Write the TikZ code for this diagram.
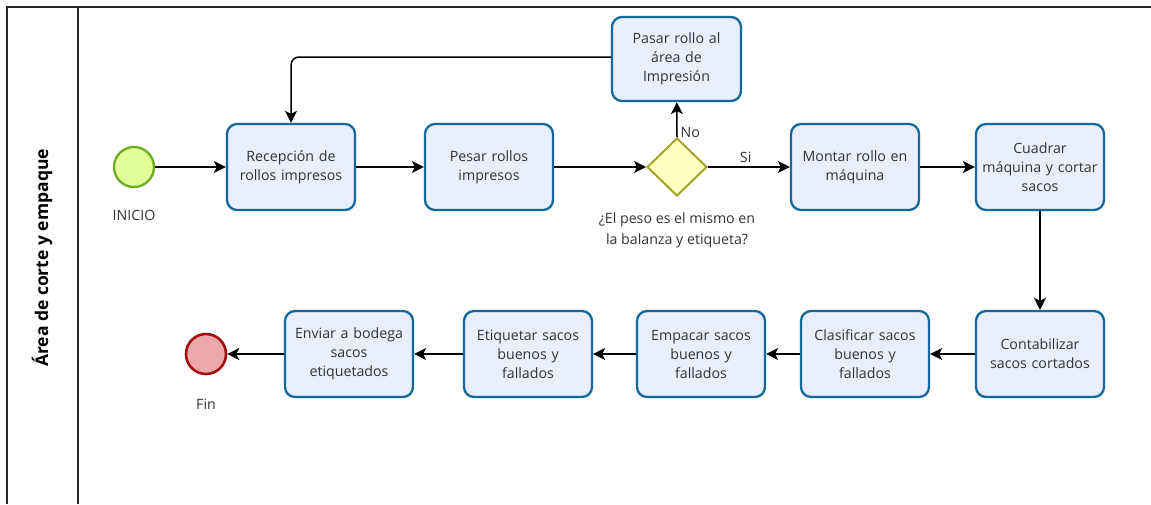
\documentclass[tikz,border=0pt]{standalone}
\usepackage{fontspec}
\setmainfont{Open Sans}
\usetikzlibrary{arrows.meta,shapes.geometric}
\definecolor{taskfill}{HTML}{E8EEFC}
\definecolor{taskline}{HTML}{15689A}
\definecolor{gatefill}{HTML}{FFFFC2}
\definecolor{gateline}{HTML}{A3A329}
\definecolor{startfill}{HTML}{E2FF9A}
\definecolor{startline}{HTML}{6AAE20}
\definecolor{endfill}{HTML}{EDA9A9}
\definecolor{endline}{HTML}{A30F0F}
\definecolor{txt}{HTML}{333333}
\tikzset{
  task/.style={draw=taskline, fill=taskfill, line width=2.3pt, rounded corners=10pt,
    minimum width=128pt, minimum height=86pt, text width=124pt, align=center,
    font=\fontsize{14.2}{19}\selectfont, text=txt, inner sep=0pt},
  gate/.style={diamond, draw=gateline, fill=gatefill, line width=2pt,
    minimum width=60pt, minimum height=58pt, inner sep=0pt},
  startev/.style={circle, draw=startline, fill=startfill, line width=2.3pt,
    minimum size=40pt, inner sep=0pt},
  endev/.style={circle, draw=endline, fill=endfill, line width=2.6pt,
    minimum size=40pt, inner sep=0pt},
  lbl/.style={font=\fontsize{14.2}{21}\selectfont, text=txt, align=center, inner sep=0pt},
  flow/.style={line width=1.5pt, -{Stealth[length=12pt,width=12pt,inset=3pt]}},
}
\begin{document}
\begin{tikzpicture}[x=1pt,y=-1pt]
  \useasboundingbox (0,0) rectangle (1151,504);
  \fill[white] (0,0) rectangle (1151,504);
  % pool and lane
  \draw[line width=1.3pt, black!85] (7,504) -- (7,7) -- (1151,7);
  \draw[line width=1.3pt, black!85] (78,7) -- (78,504);
  \node[rotate=90, font=\fontsize{17.5}{20}\selectfont\bfseries] (lane) at (42,258) {Área de corte y empaque};

  % events
  \node[startev] (ini) at (134,167) {};
  \node[lbl] (inil) at (134,215) {INICIO};
  \node[endev] (fin) at (206,354) {};
  \node[lbl] (finl) at (206,404) {Fin};

  % top row
  \node[task] (rec) at (291,167) {Recepción de\\rollos impresos};
  \node[task] (pes) at (489,167) {Pesar rollos\\impresos};
  \node[gate] (gw) at (677,167) {};
  \node[lbl] (gwl) at (677,230) {¿El peso es el mismo en\\la balanza y etiqueta?};
  \node[task, minimum width=129pt, minimum height=84pt] (pas) at (676.5,59) {Pasar rollo al\\área de\\Impresión};
  \node[task] (mon) at (855,167) {Montar rollo en\\máquina};
  \node[task] (cua) at (1040,167) {Cuadrar\\máquina y cortar\\sacos};

  % bottom row
  \node[task] (con) at (1040,354) {Contabilizar\\sacos cortados};
  \node[task] (cla) at (865,354) {Clasificar sacos\\buenos y\\fallados};
  \node[task] (emp) at (701,354) {Empacar sacos\\buenos y\\fallados};
  \node[task] (eti) at (528,354) {Etiquetar sacos\\buenos y\\fallados};
  \node[task] (env) at (349,354) {Enviar a bodega\\sacos\\etiquetados};

  % flows
  \draw[flow] (ini) -- (rec);
  \draw[flow] (rec) -- (pes);
  \draw[flow] (pes) -- (gw.west);
  \draw[flow] (gw.east) -- node[lbl, above=4pt, pos=0.46] (si) {Si} (mon);
  \draw[flow] (gw.north) -- node[lbl, right=3pt, pos=0.12] (no) {No} (pas);
  \draw[flow, rounded corners=8pt] (pas.west |- 0,57) -- (291,57) -- (rec.north);
  \draw[flow] (mon) -- (cua);
  \draw[flow] (cua) -- (con);
  \draw[flow] (con) -- (cla);
  \draw[flow] (cla) -- (emp);
  \draw[flow] (emp) -- (eti);
  \draw[flow] (eti) -- (env);
  \draw[flow] (env) -- (fin);
\end{tikzpicture}
\end{document}
